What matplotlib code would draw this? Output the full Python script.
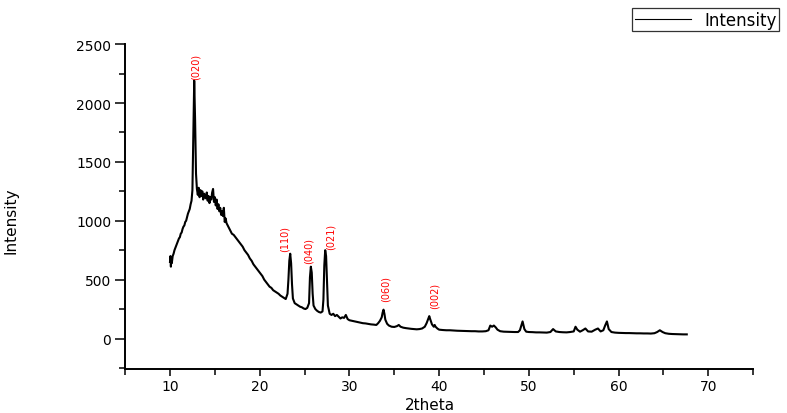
import matplotlib
matplotlib.use("Agg")
import matplotlib.pyplot as plt
from matplotlib.ticker import MultipleLocator

plt.rcParams['font.family'] = ['DejaVu Sans']

# 2theta (degrees) and intensity
theta = [
    10.0, 10.05, 10.1, 10.15, 10.2, 10.3, 10.4, 10.5, 10.6, 10.7, 10.8, 10.9,
    11.0, 11.1, 11.2, 11.3, 11.4, 11.5, 11.6, 11.7, 11.8, 11.9, 12.0, 12.1,
    12.2, 12.3, 12.4, 12.5, 12.6, 12.7, 12.8, 12.9, 13.0, 13.1, 13.2, 13.3,
    13.4, 13.5, 13.6, 13.7, 13.8, 13.9, 14.0, 14.1, 14.2, 14.3, 14.4, 14.5,
    14.6, 14.7, 14.8, 14.9, 15.0, 15.1, 15.2, 15.3, 15.4, 15.5, 15.6, 15.7,
    15.8, 15.9, 16.0, 16.1, 16.2, 16.3, 16.5, 16.7, 16.9, 17.1, 17.3, 17.5,
    17.7, 17.9, 18.1, 18.3, 18.5, 18.7, 18.9, 19.1, 19.3, 19.5, 19.7, 19.9,
    20.1, 20.3, 20.5, 20.7, 20.9, 21.1, 21.3, 21.5, 21.7, 21.9, 22.1, 22.3,
    22.5, 22.7, 22.9, 23.1, 23.2, 23.3, 23.4, 23.5, 23.6, 23.7, 23.9, 24.1,
    24.3, 24.5, 24.7, 24.9, 25.1, 25.3, 25.5, 25.6, 25.7, 25.8, 25.9, 26.0,
    26.2, 26.4, 26.6, 26.8, 27.0, 27.1, 27.2, 27.3, 27.4, 27.5, 27.6, 27.8,
    28.0, 28.2, 28.4, 28.6, 28.8, 29.0, 29.2, 29.4, 29.6, 29.8, 30.0, 30.3,
    30.6, 30.9, 31.2, 31.5, 31.8, 32.1, 32.4, 32.7, 33.0, 33.2, 33.4, 33.6,
    33.7, 33.8, 33.9, 34.0, 34.2, 34.4, 34.7, 35.0, 35.3, 35.5, 35.7, 36.0,
    36.3, 36.6, 36.9, 37.2, 37.5, 37.8, 38.1, 38.4, 38.6, 38.8, 38.9, 39.0,
    39.2, 39.4, 39.5, 39.6, 39.8, 40.0, 40.4, 40.8, 41.2, 41.6, 42.0, 42.4,
    42.8, 43.2, 43.6, 44.0, 44.4, 44.8, 45.2, 45.5, 45.7, 45.9, 46.1, 46.3,
    46.5, 46.8, 47.2, 47.6, 48.0, 48.4, 48.8, 49.0, 49.2, 49.3, 49.5, 49.7,
    50.0, 50.4, 50.8, 51.2, 51.6, 52.0, 52.4, 52.7, 53.0, 53.4, 53.8, 54.2,
    54.6, 55.0, 55.2, 55.4, 55.7, 56.0, 56.3, 56.6, 57.0, 57.4, 57.7, 58.0,
    58.3, 58.5, 58.7, 58.9, 59.2, 59.6, 60.0, 60.4, 60.8, 61.2, 61.6, 62.0,
    62.4, 62.8, 63.2, 63.6, 64.0, 64.3, 64.6, 64.9, 65.2, 65.6, 66.0, 66.4,
    66.8, 67.2, 67.6,
]
intensity = [
    650, 700, 610, 690, 640, 700, 720, 750, 770, 790, 810, 830,
    850, 860, 890, 900, 930, 950, 960, 990, 1000, 1030, 1060, 1080,
    1100, 1140, 1170, 1260, 1700, 2190, 1850, 1400, 1270, 1220, 1280, 1200,
    1260, 1210, 1250, 1180, 1230, 1200, 1190, 1240, 1170, 1210, 1150, 1200,
    1180, 1240, 1270, 1160, 1200, 1130, 1180, 1100, 1140, 1080, 1110, 1050,
    1080, 1040, 1110, 990, 1020, 980, 950, 920, 890, 880, 860, 840,
    820, 800, 780, 750, 730, 710, 680, 660, 630, 610, 590, 570,
    550, 530, 500, 480, 460, 440, 430, 410, 400, 390, 380, 365,
    355, 345, 335, 380, 500, 660, 720, 640, 460, 340, 300, 290,
    280, 270, 265, 255, 250, 260, 300, 520, 610, 560, 380, 280,
    250, 235, 225, 220, 230, 330, 620, 750, 700, 480, 280, 210,
    200, 210, 190, 200, 185, 170, 180, 175, 200, 165, 155, 150,
    145, 140, 135, 130, 128, 124, 120, 118, 115, 130, 150, 180,
    220, 245, 210, 160, 125, 110, 100, 98, 105, 115, 100, 92,
    88, 85, 82, 80, 78, 80, 85, 100, 130, 170, 190, 165,
    120, 100, 115, 100, 85, 75, 72, 70, 70, 68, 66, 65,
    64, 63, 62, 62, 60, 60, 62, 70, 110, 100, 110, 95,
    75, 62, 58, 57, 56, 55, 55, 70, 120, 145, 80, 58,
    55, 54, 52, 52, 51, 50, 55, 80, 60, 55, 53, 52,
    55, 60, 100, 75, 58, 70, 85, 60, 58, 75, 85, 60,
    70, 110, 145, 80, 55, 50, 48, 47, 46, 46, 45, 44,
    44, 43, 43, 42, 45, 55, 70, 55, 45, 40, 38, 37,
    36, 35, 35,
]

peak_labels = ['(020)', '(110)', '(040)', '(021)', '(060)', '(002)']
label_theta = [12.9, 22.8, 25.5, 27.9, 34.0, 39.5]
label_y = [2200, 740, 645, 757, 315, 255]

fig = plt.figure(figsize=(7.87, 4.14), dpi=100)
ax = fig.add_axes([0.159, 0.106, 0.798, 0.785])

ax.plot(theta, intensity, color='black', linewidth=1.5, label='Intensity')

for lab, tx, ty in zip(peak_labels, label_theta, label_y):
    ax.text(tx, ty, lab, color='red', fontsize=7, rotation=90,
            ha='center', va='bottom')

ax.set_xlim(5, 75)
ax.set_ylim(-260, 2500)
ax.xaxis.set_major_locator(MultipleLocator(10))
ax.xaxis.set_minor_locator(MultipleLocator(5))
ax.yaxis.set_major_locator(MultipleLocator(500))
ax.yaxis.set_minor_locator(MultipleLocator(250))
ax.set_xticks(range(10, 71, 10))
ax.set_yticks(range(0, 2501, 500))

ax.spines['top'].set_visible(False)
ax.spines['right'].set_visible(False)
ax.spines['left'].set_linewidth(1.4)
ax.spines['bottom'].set_linewidth(1.4)
ax.tick_params(which='major', direction='out', length=7, width=1.1,
               labelsize=10, pad=3)
ax.tick_params(axis='x', which='major', length=5, pad=2)
ax.tick_params(which='minor', direction='out', length=4, width=1.1)

ax.set_xlabel('2theta', fontsize=11)
ax.set_ylabel('Intensity', fontsize=11)
ax.xaxis.set_label_coords(0.486, -0.085)
ax.yaxis.set_label_coords(-0.17, 0.46)

leg = ax.legend(loc='upper left', bbox_to_anchor=(632 / 787, 1 - 9 / 414),
                bbox_transform=fig.transFigure, fancybox=False, fontsize=12,
                handlelength=3.4, handletextpad=0.8, borderpad=0.15,
                borderaxespad=0)
leg.get_frame().set_edgecolor('black')
leg.get_frame().set_linewidth(0.9)
for handle in leg.get_lines():
    handle.set_linewidth(0.8)

fig.savefig('out.png', dpi=100)
